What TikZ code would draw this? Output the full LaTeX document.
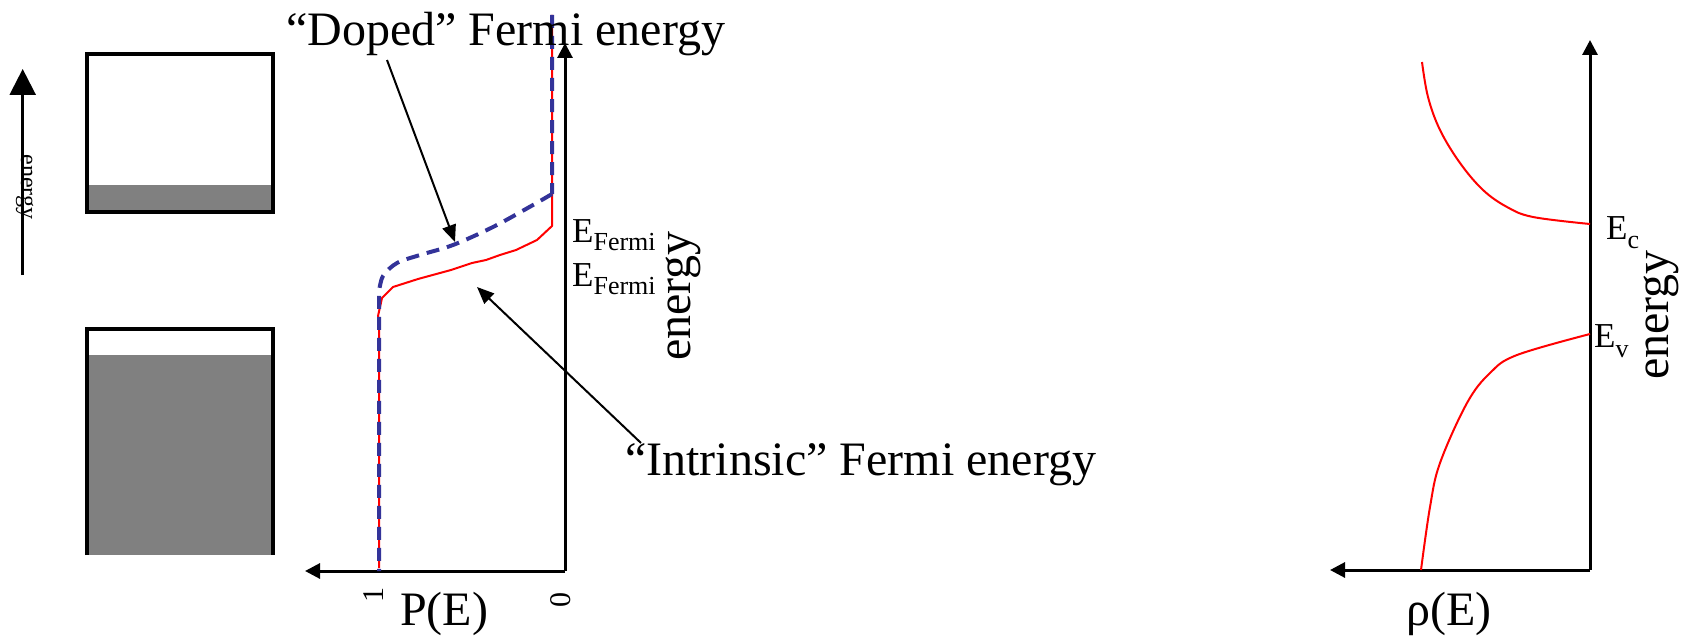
\documentclass[tikz,border=0pt]{standalone}
\usepackage{fontspec}
\setmainfont{Liberation Serif}
\usetikzlibrary{arrows.meta}
\definecolor{dopeblue}{RGB}{51,51,153}
\definecolor{bandgray}{RGB}{128,128,128}
\newcommand{\Esub}[2]{E\raisebox{-#2}{\fontsize{26}{30}\selectfont #1}}
\begin{document}
\begin{tikzpicture}[x=1pt,y=-1pt,
  axis/.style={line width=3pt, -{Triangle[length=15pt,width=15pt]}},
  smallaxis/.style={line width=2.5pt, -{Triangle[length=26pt,width=26pt]}},
  pointer/.style={line width=2pt, -{Triangle[length=17pt,width=14pt]}},
  bandbox/.style={line width=3.5pt},
  bigtext/.style={font=\fontsize{48}{56}\selectfont, inner sep=0pt},
  midtext/.style={font=\fontsize{35}{40}\selectfont, inner sep=0pt},
  ticktext/.style={font=\fontsize{30}{36}\selectfont, inner sep=0pt},
  redcurve/.style={draw=red, line width=2pt, line join=round},
  dopedcurve/.style={draw=dopeblue, line width=4pt, dash pattern=on 13pt off 8pt}]
\useasboundingbox (0,0) rectangle (1682,642);

% ---- left: energy arrow and band boxes ----
\coordinate (eLow) at (22.7,275);
\coordinate (eHigh) at (22.7,69);
\draw[smallaxis] (eLow) -- (eHigh);
\node[font=\fontsize{24}{28}\selectfont, rotate=-90, anchor=base, inner sep=0pt] (energySmall) at (21,187) {energy};

\fill[bandgray] (87,185) rectangle (273,212);
\draw[bandbox] (87,54) rectangle (273,212);
\fill[bandgray] (87,355) rectangle (273,555);
\draw[bandbox] (87,555) -- (87,329) -- (273,329) -- (273,555);

% ---- middle: occupation probability ----
\coordinate (pOrigin) at (565,571);
\coordinate (pTop) at (565,43);
\coordinate (pLeft) at (305,571);
\draw[axis] (pOrigin) -- (pTop);
\draw[axis] (pOrigin) -- (pLeft);

\draw[redcurve] (552,15) -- (552,226) -- (537,240) -- (516,250) -- (500,255) -- (486,260) -- (472,263)
  -- (451,270) -- (418,279) -- (393,287) -- (382,298) -- (378,316) -- (379,320) -- (379,568);
\draw[dopedcurve] (552,15) -- (552,194)
  plot[smooth, tension=0.55] coordinates {(552,194) (533,205) (493,227) (453,245) (420,255) (397,263) (383,276) (379,292)}
  -- (379,571);

\node[midtext, anchor=base west] (ef1) at (572,242) {\Esub{Fermi}{8pt}};
\node[midtext, anchor=base west] (ef2) at (572,286) {\Esub{Fermi}{8pt}};
\node[bigtext, rotate=90, anchor=base] (energyMid) at (690,296) {energy};

\node[ticktext, rotate=90] (one) at (374,595) {1};
\node[ticktext, rotate=90] (zero) at (561,600) {0};
\node[bigtext, anchor=base west] (pe) at (400,625) {P(E)};

\node[bigtext, anchor=base west] (doped) at (286,46) {“Doped” Fermi energy};
\node[bigtext, anchor=base west] (intrinsic) at (625,475) {“Intrinsic” Fermi energy};
\coordinate (dopedTail) at (387,60);
\coordinate (dopedTip) at (455,242);
\coordinate (intrTail) at (641,443);
\coordinate (intrTip) at (477,287);
\draw[pointer] (dopedTail) -- (dopedTip);
\draw[pointer] (intrTail) -- (intrTip);

% ---- right: density of states ----
\coordinate (rOrigin) at (1590,570);
\coordinate (rTop) at (1590,40);
\coordinate (rLeft) at (1330,570);
\draw[axis] (rOrigin) -- (rTop);
\draw[axis] (rOrigin) -- (rLeft);

\draw[redcurve] plot[smooth, tension=0.6] coordinates {(1422,62) (1428,97) (1440,130) (1460,163) (1483,190) (1507,207) (1533,217) (1590,224)};
\draw[redcurve] plot[smooth, tension=0.6] coordinates {(1590,334) (1517,355) (1490,373) (1467,403) (1440,463) (1430,507) (1421,570)};

\node[midtext, anchor=base west] (ec) at (1606,239) {\Esub{c}{9pt}};
\node[midtext, anchor=base west] (ev) at (1594,347) {\Esub{v}{10pt}};
\node[bigtext, rotate=90, anchor=base] (energyRight) at (1668,315) {energy};
\node[bigtext, anchor=base west] (rho) at (1406,625) {ρ(E)};
\end{tikzpicture}
\end{document}
